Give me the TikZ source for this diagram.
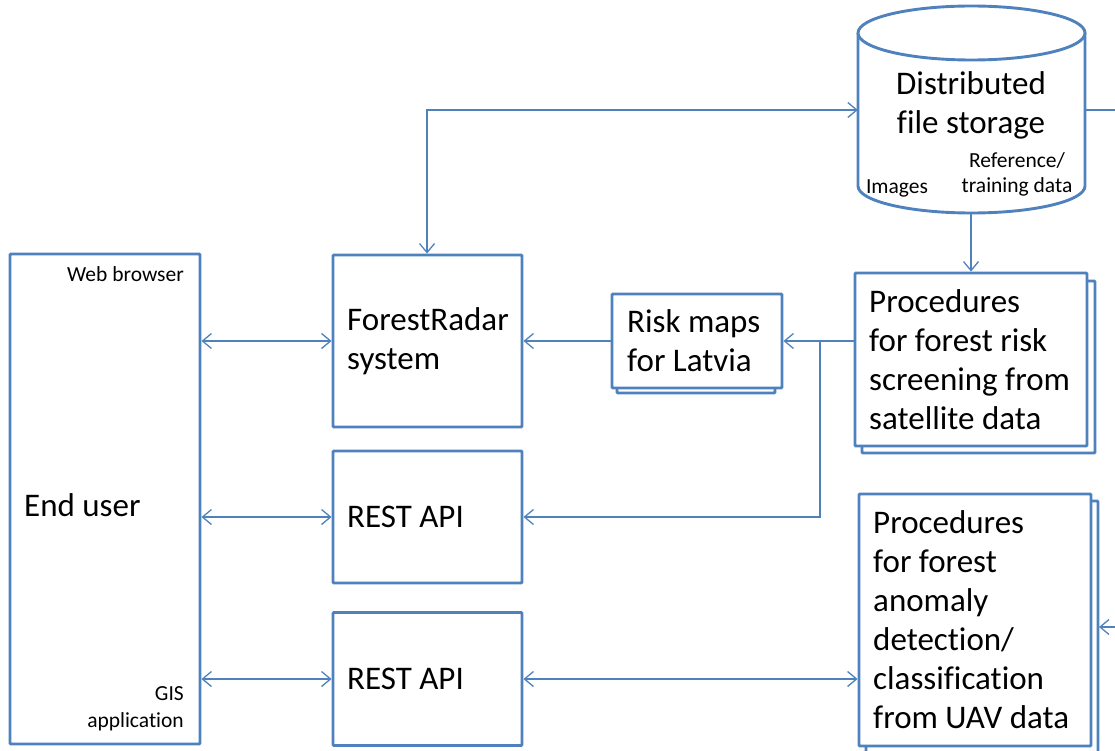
\documentclass[tikz,border=0pt]{standalone}
\usepackage{fontspec}
\setmainfont{Carlito}[Ligatures=NoCommon]
\usetikzlibrary{arrows.meta}
\definecolor{obl}{HTML}{4F81BD}
\tikzset{
  box/.style={draw=obl, line width=2.9pt, fill=white, rounded corners=1pt, inner sep=0pt},
  backbox/.style={draw=obl, line width=2.9pt, fill=white, rounded corners=1pt},
  conn/.style={draw=obl, line width=1.3pt},
  tip/.style={-{Straight Barb[length=9pt,width=15pt,line width=1.3pt]}},
  tips/.style={{Straight Barb[length=9pt,width=15pt,line width=1.3pt]}-{Straight Barb[length=9pt,width=15pt,line width=1.3pt]}},
  big/.style={font=\fontsize{33}{39}\selectfont, align=left, inner sep=0pt},
  small/.style={font=\fontsize{21.5}{27}\selectfont, inner sep=0pt},
}
\begin{document}
\begin{tikzpicture}[x=1pt,y=-1pt]
\useasboundingbox (0,0) rectangle (1115,751);
\clip (0,0) rectangle (1115,751);
% End user
\node[box, minimum width=190pt, minimum height=490pt] (eu) at (105,499) {};
\node[small, anchor=base east] (webt) at (184,281) {Web browser};
\node[small, anchor=base east, align=right] (gist) at (184,727) {GIS\\application};
\node[big, anchor=west] (eut) at (24,505) {End user};
% ForestRadar
\node[box, minimum width=189pt, minimum height=172pt] (fr) at (427.5,341) {};
\node[big, anchor=west] (frt) at (347,341) {ForestRadar\\system};
% REST API 1
\node[box, minimum width=189pt, minimum height=132pt] (ra) at (427.5,517) {};
\node[big, anchor=west] (rat) at (347,517) {REST API};
% REST API 2
\node[box, minimum width=189pt, minimum height=133pt] (rb) at (427.5,679) {};
\node[big, anchor=west] (rbt) at (347,679) {REST API};
% Risk maps
\draw[backbox] (617,300) rectangle (775,393);
\node[box, minimum width=170pt, minimum height=94pt] (rm) at (697,341) {};
\node[big, anchor=west] (rmt) at (627,341) {Risk maps\\for Latvia};
% Satellite procedures
\draw[backbox] (862,281) rectangle (1095,453);
\node[box, minimum width=232pt, minimum height=173pt] (sp) at (971,359.5) {};
\node[big, anchor=west] (spt) at (869,359.5) {Procedures\\for forest risk\\screening from\\satellite data};
% UAV procedures
\draw[backbox] (866,501) rectangle (1098,770);
\node[box, minimum width=232pt, minimum height=252pt] (up) at (975,620) {};
\node[big, anchor=west] (upt) at (873,620) {Procedures\\for forest\\anomaly\\detection/\\classification\\from UAV data};
% Cylinder
\draw[draw=obl, line width=2.9pt, fill=white] (858,33) -- (858,186) arc[start angle=180, end angle=360, x radius=113.5, y radius=-27] -- (1085,33);
\draw[draw=obl, line width=2.9pt, fill=white] (971.5,33) ellipse[x radius=113.5, y radius=27];
\node[minimum width=227pt, minimum height=206pt, inner sep=0pt] (cyl) at (971.5,110) {};
\node[big, align=center] (cylt) at (971,105) {Distributed\\file storage};
\node[small] (imgt) at (897,188) {Images};
\node[small, align=center, font=\fontsize{21.5}{25}\selectfont] (reft) at (1017,174) {Reference/\\training data};
% Connectors
\coordinate (cor) at (427,110);
\draw[conn, tips] (fr.north -| cor) -- (cor) -- (cyl.west |- cor);
\draw[conn, tip] (cyl.south -| sp.north) -- (sp.north);
\coordinate (rgt1) at (1115,110);
\draw[conn] (cyl.east |- rgt1) -- (rgt1);
\draw[conn, tip] (sp.west |- rm.east) -- (rm.east);
\coordinate (br) at (820,341);
\draw[conn, tip] (br) -- (br |- ra.east) -- (ra.east);
\draw[conn, tip] (rm.west) -- (fr.east);
\draw[conn, tips] (eu.east |- fr.east) -- (fr.west);
\draw[conn, tips] (eu.east |- ra.east) -- (ra.west);
\draw[conn, tips] (eu.east |- rb.west) -- (rb.west);
\draw[conn, tips] (rb.east) -- (up.west |- rb.east);
\coordinate (rgt2) at (1115,627);
\draw[conn, tip] (rgt2) -- (1099,627);
\end{tikzpicture}
\end{document}
